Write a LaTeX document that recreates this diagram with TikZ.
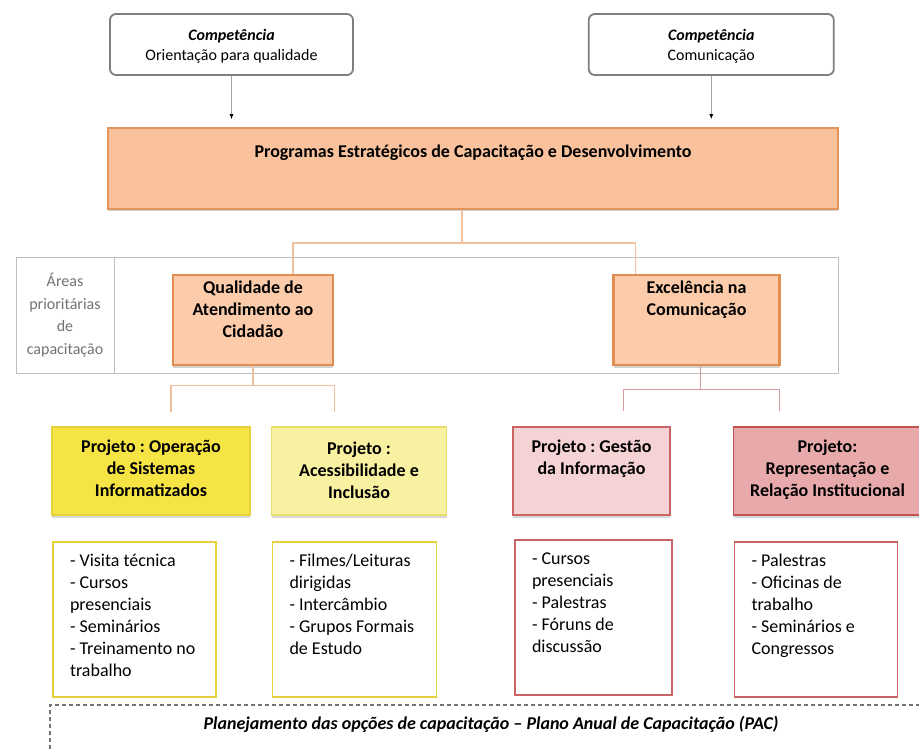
\documentclass[tikz,border=0pt]{standalone}
\usepackage{fontspec}
\setmainfont{Carlito}
\usepackage{tikz}
\usetikzlibrary{arrows,arrows.meta,calc,positioning,shadows}

\definecolor{progfill}{HTML}{F9C29D}
\definecolor{progline}{HTML}{E3935C}
\definecolor{areafill}{HTML}{FBCBAA}
\definecolor{arealine}{HTML}{E38D52}
\definecolor{yelfill}{HTML}{F6E445}
\definecolor{yelline}{HTML}{E5D13C}
\definecolor{ltyelfill}{HTML}{F9F1A2}
\definecolor{ltyelline}{HTML}{E9DD6B}
\definecolor{pinkfill}{HTML}{F5D3D5}
\definecolor{pinkline}{HTML}{C86464}
\definecolor{rosefill}{HTML}{E8A9AB}
\definecolor{roseline}{HTML}{BF5552}
\definecolor{treeorange}{HTML}{F2C09C}
\definecolor{treerose}{HTML}{D29C9C}
\definecolor{compline}{HTML}{7F7F7F}
\definecolor{bandline}{HTML}{BFBFBF}

\frenchspacing
\newcommand{\boxtext}[4]{\parbox[c][#2][t]{#1}{\centering\rule{0pt}{#3}#4}}
\newcommand{\listtext}[4]{\parbox[c][#2][t]{#1}{\raggedright\leftskip=17pt\rule{0pt}{#3}#4}}

\begin{document}
\begin{tikzpicture}[x=1pt,y=-1pt,>={Latex[length=5pt,width=4pt,black]}]
	\tikzstyle{comp} = [draw=compline, line width=1.8pt, rounded corners=6pt, fill=white, inner sep=0pt, font=\fontsize{16}{20}\selectfont]
	\tikzstyle{prog} = [draw=progline, line width=1.8pt, fill=progfill, inner sep=0pt, font=\fontsize{18}{22}\selectfont\bfseries, drop shadow={shadow xshift=0pt, shadow yshift=-2.5pt, opacity=0.35}]
	\tikzstyle{area} = [draw=arealine, line width=2.5pt, fill=areafill, inner sep=0pt, font=\fontsize{18}{22}\selectfont\bfseries, drop shadow={shadow xshift=0pt, shadow yshift=-2.5pt, opacity=0.35}]
	\tikzstyle{proj} = [line width=1.5pt, inner sep=0pt, font=\fontsize{18}{22}\selectfont\bfseries, drop shadow={shadow xshift=0pt, shadow yshift=-2.5pt, opacity=0.3}]
	\tikzstyle{list} = [line width=1.8pt, fill=white, inner sep=0pt, font=\fontsize{18}{22}\selectfont]
	\tikzstyle{band} = [draw=bandline, line width=1pt]
	\tikzstyle{areatext} = [inner sep=0pt, align=center, text=black!55, font=\fontsize{16}{22.5}\selectfont]
	\tikzstyle{arrowline} = [draw=black!35, line width=0.8pt]
	\tikzstyle{tree1} = [draw=treeorange, line width=1.5pt]
	\tikzstyle{tree2} = [draw=treerose, line width=1.5pt]
	\tikzstyle{pacline} = [draw=black!55, line width=2pt, dash pattern=on 4pt off 3pt]
	
	\fill [white] (0,0) rectangle (919,749);
	\useasboundingbox (0,0) rectangle (919,749);
	
	% competencias
	\node [comp] (comp1) at (231.5,44.5) {\boxtext{243pt}{61pt}{27pt}{\textbf{\textit{Competência}}\\Orientação para qualidade}};
	\node [comp, right = 234pt of comp1] (comp2) {\boxtext{245pt}{61pt}{27pt}{\textbf{\textit{Competência}}\\Comunicação}};
	
	\node [prog] (prog) at (473,168.5) {\boxtext{730pt}{81pt}{30pt}{Programas Estratégicos de Capacitação e Desenvolvimento}};
	
	\draw [->, arrowline, shorten >=8pt] (comp1) -- (comp1 |- prog.north);
	\draw [->, arrowline, shorten >=8pt] (comp2) -- (comp2 |- prog.north);
	
	% areas prioritarias
	\node [band, minimum width=822pt, minimum height=116pt] (band) at (427,315) {};
	\node [areatext, minimum width=98pt] (areas) at (65,315) {Áreas\\prioritárias\\de\\capacitação};
	\draw [band] (band.north -| areas.east) -- (band.south -| areas.east);
	
	\node [area] (qual) at (253,320) {\boxtext{160pt}{90pt}{18pt}{Qualidade de\\Atendimento ao\\Cidadão}};
	\node [area, right = 278pt of qual] (excel) {\boxtext{166pt}{90pt}{18pt}{Excelência na\\Comunicação}};
	
	% projetos
	\node [proj, fill=yelfill, draw=yelline] (p1) at (151,471) {\boxtext{198pt}{88pt}{25pt}{Projeto : Operação\\de Sistemas\\Informatizados}};
	\node [proj, fill=ltyelfill, draw=ltyelline, right = 20pt of p1] (p2) {\boxtext{175pt}{88pt}{27pt}{Projeto :\\Acessibilidade e\\Inclusão}};
	\node [proj, fill=pinkfill, draw=pinkline, right = 65pt of p2] (p3) {\boxtext{157pt}{88pt}{25pt}{Projeto : Gestão\\da Informação}};
	\node [proj, fill=rosefill, draw=roseline, right = 62pt of p3] (p4) {\boxtext{188pt}{88pt}{25pt}{Projeto:\\Representação e\\Relação Institucional}};
	
	% acoes
	\node [list, draw=yelline, below = 25pt of p1, xshift=-16.5pt] (l1) {\listtext{163pt}{155pt}{25pt}{- Visita técnica\\- Cursos\\presenciais\\- Seminários\\- Treinamento no\\trabalho}};
	\node [list, draw=yelline, below = 25pt of p2, xshift=-4.5pt] (l2) {\listtext{164pt}{155pt}{25pt}{- Filmes/Leituras\\dirigidas\\- Intercâmbio\\- Grupos Formais\\de Estudo}};
	\node [list, draw=pinkline, below = 23pt of p3, xshift=2pt] (l3) {\listtext{157pt}{155pt}{25pt}{- Cursos\\presenciais\\- Palestras\\- Fóruns de\\discussão}};
	\node [list, draw=pinkline, below = 25pt of p4, xshift=-11.5pt] (l4) {\listtext{163pt}{155pt}{25pt}{- Palestras\\- Oficinas de\\trabalho\\- Seminários e\\Congressos}};
	
	% ligacoes
	\coordinate [below = 33pt of prog, xshift=-11pt] (j1);
	\draw [tree1] (prog.south -| j1) -- (j1);
	\draw [tree1] (j1) -| ([xshift=40pt]qual.north);
	\draw [tree1] (j1) -| ([xshift=-61pt]excel.north);
	
	\coordinate [below = 19pt of qual] (j2);
	\coordinate [above = 14pt of p1, xshift=20pt] (d1);
	\coordinate [above = 14pt of p2, xshift=-24.5pt] (d2);
	\draw [tree1] (qual) -- (j2);
	\draw [tree1] (j2) -| (d1);
	\draw [tree1] (j2) -| (d2);
	
	\coordinate [below = 23pt of excel, xshift=4pt] (j3);
	\coordinate [above = 15pt of p3, xshift=32pt] (d3);
	\coordinate [above = 15pt of p4, xshift=-48pt] (d4);
	\draw [tree2] (excel.south -| j3) -- (j3);
	\draw [tree2] (j3) -| (d3);
	\draw [tree2] (j3) -| (d4);
	
	% planejamento
	\node [font=\fontsize{18}{22}\selectfont\bfseries\itshape] (pac) at (491,724) {Planejamento das opções de capacitação – Plano Anual de Capacitação (PAC)};
	\draw [pacline] (50,749) -- (50,705) -- (919,705);
	
\end{tikzpicture}
\end{document}
